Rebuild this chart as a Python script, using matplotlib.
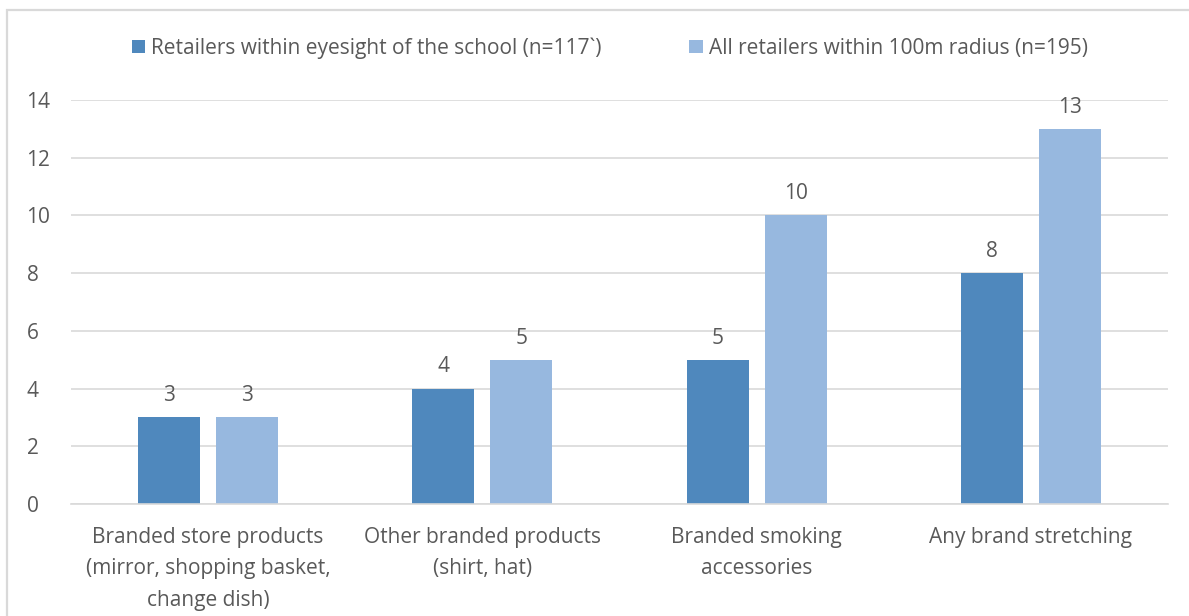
import matplotlib.pyplot as plt
import numpy as np
from matplotlib.patches import Rectangle

plt.rcParams['font.family'] = ['Open Sans', 'DejaVu Sans']

# Chart data
categories = [
    'Branded store products\n(mirror, shopping basket,\nchange dish)',
    'Other branded products\n(shirt, hat)',
    'Branded smoking\naccessories',
    'Any brand stretching',
]
eyesight = [3, 4, 5, 8]
radius = [3, 5, 10, 13]
series_names = [
    'Retailers within eyesight of the school (n=117`)',
    'All retailers within 100m radius (n=195)',
]

text_color = '#595959'
grid_color = '#D9D9D9'
colors = ['#4F88BD', '#97B8DF']
fs = 15

fig = plt.figure(figsize=(11.89, 6.16), dpi=100)
ax = fig.add_axes([0.0597, 0.1818, 0.9226, 0.656])

x = np.arange(len(categories))
width = 0.226
offset = 0.142
bars1 = ax.bar(x - offset, eyesight, width, color=colors[0], label=series_names[0])
bars2 = ax.bar(x + offset, radius, width, color=colors[1], label=series_names[1])

for bars in (bars1, bars2):
    ax.bar_label(bars, padding=8, fontsize=fs, color=text_color)

ax.set_xlim(-0.5, len(categories) - 0.5)
ax.set_ylim(0, 14)
ax.set_yticks(range(0, 15, 2))
ax.set_xticks(x)
ax.set_xticklabels(categories, linespacing=1.65)
ax.tick_params(axis='both', length=0, labelsize=fs, colors=text_color)
ax.tick_params(axis='x', pad=16.5)
ax.tick_params(axis='y', pad=32)
for lbl in ax.get_yticklabels():
    lbl.set_horizontalalignment('left')

ax.yaxis.grid(True, color=grid_color, linewidth=1.2)
ax.set_axisbelow(True)
for side in ('top', 'right', 'left'):
    ax.spines[side].set_visible(False)
ax.spines['bottom'].set_color(grid_color)
ax.spines['bottom'].set_linewidth(1.2)

leg = fig.legend(loc='center', bbox_to_anchor=(0.513, 0.922), ncol=2, frameon=False,
                 fontsize=fs, handlelength=0.65, handleheight=0.65, handletextpad=0.3,
                 columnspacing=4.2)
for t in leg.get_texts():
    t.set_color(text_color)

# Chart area border
fig.patches.append(Rectangle((7 / 1189, -0.1), 1.2, 0.1 + (616 - 10) / 616,
                             transform=fig.transFigure, fill=False,
                             edgecolor=grid_color, linewidth=1.6))

fig.savefig('out.png', dpi=100)
